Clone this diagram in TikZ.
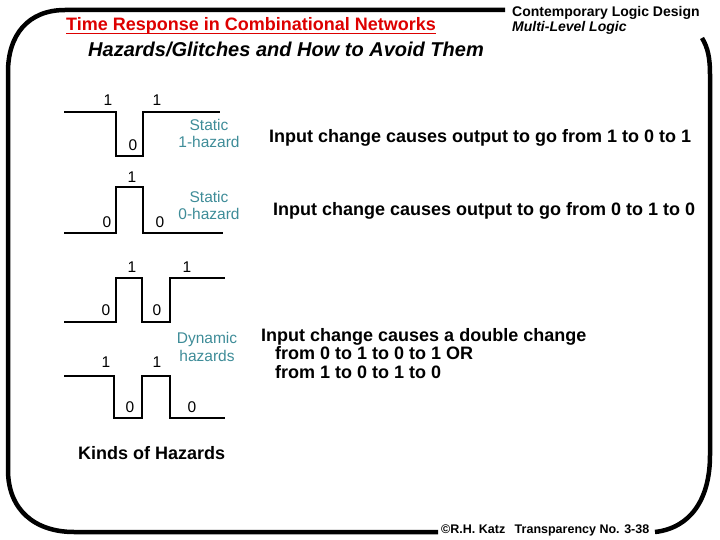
\documentclass[tikz,border=0pt]{standalone}
\usepackage{fontspec}
\setmainfont{Liberation Sans}
\usetikzlibrary{calc}
\definecolor{titlered}{RGB}{221,0,0}
\definecolor{tealtxt}{RGB}{62,140,152}
\begin{document}
\begin{tikzpicture}[x=1pt,y=-1pt,
  txt/.style={inner sep=0pt, anchor=base west},
  big/.style={txt, font=\fontsize{18}{19}\selectfont\bfseries},
  lbl/.style={inner sep=0pt, font=\fontsize{15.5}{16}\selectfont},
  tlbl/.style={inner sep=0pt, font=\fontsize{15.5}{16}\selectfont, text=tealtxt},
  wave/.style={line width=1.8pt, line join=miter},
  frame/.style={line width=4.5pt}]
\useasboundingbox (0,0) rectangle (720,540);
% frame
\draw[frame] (505,10) -- (65,10) .. controls (28,10) and (8,35) .. (8,72) -- (8,470) .. controls (8,510) and (35,532) .. (74,532) -- (438,532);
\draw[frame] (702,38) .. controls (708,48) and (710,58) .. (710,75) -- (710,455) .. controls (710,500) and (690,528) .. (655,532);
% header
\node[txt, font=\fontsize{18}{19}\selectfont\bfseries, text=titlered] (title) at (66,30.5) {Time Response in Combinational Networks};
\draw[titlered, line width=1.4pt] ($(title.base west)+(0,3)$) -- ($(title.base east)+(0,3)$);
\node[txt, font=\fontsize{20}{21}\selectfont\bfseries\itshape] (sub) at (88,57) {Hazards/Glitches and How to Avoid Them};
\node[txt, font=\fontsize{14}{15}\selectfont\bfseries] (cld) at (512,17) {Contemporary Logic Design};
\node[txt, font=\fontsize{14}{15}\selectfont\bfseries\itshape] (mll) at (512,32) {Multi-Level Logic};
% static 1-hazard
\draw[wave] (64,112) -- (116,112) -- (116,156) -- (143,156) -- (143,112) -- (220,112);
\node[lbl] (a1) at (108,100) {1};
\node[lbl] (a2) at (157,100) {1};
\node[lbl] (a3) at (133,145) {0};
\node[tlbl] (s1a) at (209,125) {Static};
\node[tlbl] (s1b) at (209,142) {1-hazard};
% static 0-hazard
\draw[wave] (64,233) -- (116,233) -- (116,187) -- (143,187) -- (143,233) -- (223,233);
\node[lbl] (b1) at (132,177) {1};
\node[lbl] (b2) at (107,222) {0};
\node[lbl] (b3) at (160,222) {0};
\node[tlbl] (s0a) at (209,197) {Static};
\node[tlbl] (s0b) at (209,214) {0-hazard};
% dynamic 1
\draw[wave] (64,322) -- (116,322) -- (116,278) -- (142,278) -- (142,322) -- (170,322) -- (170,278) -- (225,278);
\node[lbl] (c1) at (132,267) {1};
\node[lbl] (c2) at (187,267) {1};
\node[lbl] (c3) at (106,310) {0};
\node[lbl] (c4) at (157,310) {0};
\node[tlbl] (da) at (207,339) {Dynamic};
\node[tlbl] (db) at (207,356) {hazards};
% dynamic 2
\draw[wave] (64,376) -- (114,376) -- (114,418) -- (142,418) -- (142,376) -- (170,376) -- (170,418) -- (225,418);
\node[lbl] (d1) at (106,362) {1};
\node[lbl] (d2) at (157,362) {1};
\node[lbl] (d3) at (130,407) {0};
\node[lbl] (d4) at (192,407) {0};
% descriptions
\node[big] (l1) at (269,142.5) {Input change causes output to go from 1 to 0 to 1};
\node[big] (l2) at (273,215.5) {Input change causes output to go from 0 to 1 to 0};
\node[big] (l3) at (261,341.5) {Input change causes a double change};
\node[big] (l4) at (275,359.5) {from 0 to 1 to 0 to 1 OR};
\node[big] (l5) at (275,378.5) {from 1 to 0 to 1 to 0};
\node[big] (kinds) at (78,459.5) {Kinds of Hazards};
\node[txt, font=\fontsize{12.5}{13}\selectfont\bfseries] (foot) at (441,533.5) {©R.H. Katz\hspace{6pt} Transparency No. 3-38};
\end{tikzpicture}
\end{document}
